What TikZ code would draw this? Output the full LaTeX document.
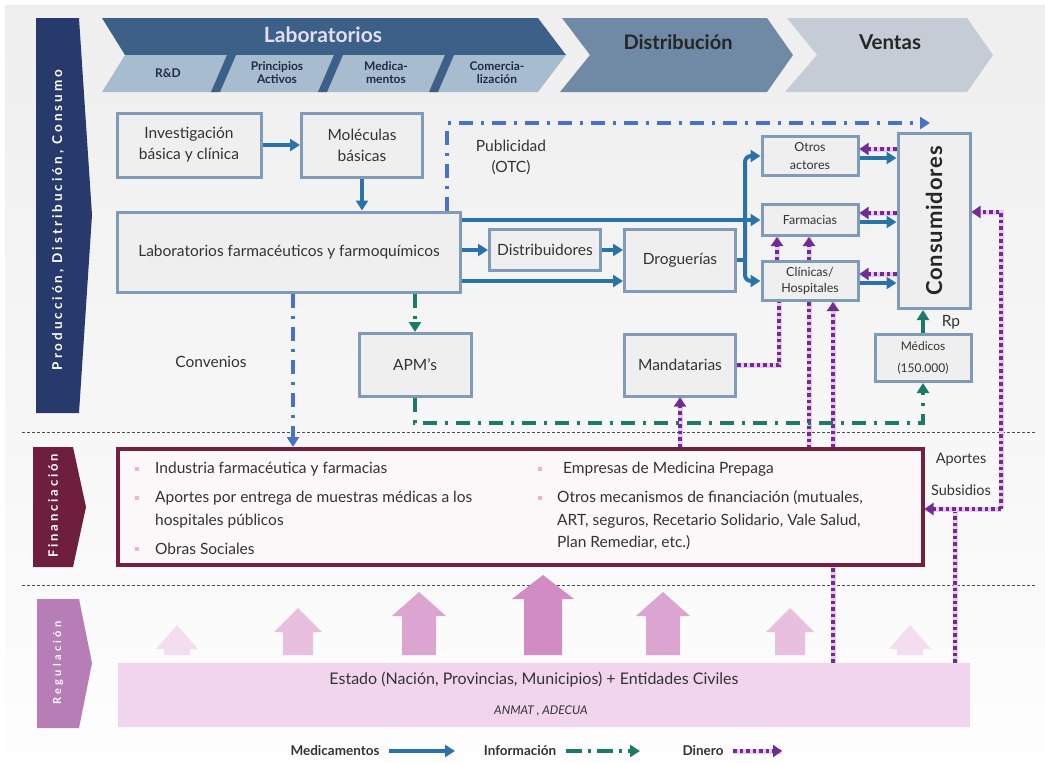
\documentclass[tikz,border=0pt]{standalone}
\usepackage{fontspec}
\setmainfont{Lato}
\usetikzlibrary{positioning, arrows.meta, calc}

\definecolor{navyband}{HTML}{283A6B}
\definecolor{finband}{HTML}{6D1F3D}
\definecolor{regband}{HTML}{B67DB6}
\definecolor{labdark}{HTML}{3D6089}
\definecolor{lablight}{HTML}{A8BCCF}
\definecolor{labtitle}{HTML}{E4DEF2}
\definecolor{distband}{HTML}{7089A5}
\definecolor{ventband}{HTML}{C5CCD5}
\definecolor{boxline}{HTML}{7F9BB8}
\definecolor{boxfill}{HTML}{EFEFEF}
\definecolor{medblue}{HTML}{2A73A8}
\definecolor{pubblue}{HTML}{4A72C4}
\definecolor{infogreen}{HTML}{1C7A6A}
\definecolor{dinpurple}{HTML}{6F2C91}
\definecolor{dinpale}{HTML}{E9C9EC}
\definecolor{finline}{HTML}{74203F}
\definecolor{finfill}{HTML}{FCF8F9}
\definecolor{bulletpink}{HTML}{F2B3C6}
\definecolor{estpink}{HTML}{F1D5EC}
\definecolor{txtdark}{HTML}{333333}
\definecolor{subdark}{HTML}{1F2B45}
\definecolor{uparrowA}{HTML}{F4DDEF}
\definecolor{uparrowB}{HTML}{E8BFDF}
\definecolor{uparrowC}{HTML}{DCA4D0}
\definecolor{uparrowD}{HTML}{D08CC3}

\tikzset{
  box/.style={draw=boxline, line width=3pt, fill=boxfill, align=center, text=txtdark, inner sep=1pt},
  smallbox/.style={box, font=\fontsize{12.5}{18}\selectfont},
  lbl/.style={text=txtdark, align=center, inner sep=1pt},
  bandtxt/.style={text=white, rotate=90, font=\bfseries\fontsize{13.5}{15}\selectfont\addfontfeature{LetterSpace=22}},
  subtxt/.style={text=subdark, align=center, font=\bfseries\fontsize{12}{13}\selectfont},
  fintxt/.style={text=txtdark, anchor=west, inner sep=0pt, font=\fontsize{15.5}{18}\selectfont},
  bulletsq/.style={fill=bulletpink, minimum size=3.5pt, inner sep=0pt},
  legtxt/.style={text=txtdark, font=\bfseries\fontsize{13.5}{15}\selectfont},
  headtip/.style={-{Triangle[length=10pt, width=12pt]}},
  med/.style={draw=medblue, line width=4pt, headtip},
  info/.style={draw=infogreen, line width=4pt, dash pattern=on 14pt off 8pt on 3pt off 8pt, headtip},
  pub/.style={draw=pubblue, line width=4pt, dash pattern=on 14pt off 8pt on 3pt off 8pt, headtip},
  money/.style={draw=dinpurple, line width=4pt, dash pattern=on 3.5pt off 3pt,
    preaction={draw=dinpale, solid, line width=5pt, -}},
  moneytip/.style={money, -{Triangle[length=9pt, width=12pt]}},
  sepline/.style={draw=gray!60!black, line width=0.6pt, dash pattern=on 3pt off 2pt},
}

\begin{document}
\begin{tikzpicture}[x=1pt, y=-1pt, font=\fontsize{15.5}{21}\selectfont]
\useasboundingbox (0,0) rectangle (1045,763);
\fill[white] (0,0) rectangle (1045,763);
\shade[top color=gray!13, bottom color=gray!1] (5,5) rectangle (1045,763);

% bands on the left
\fill[navyband] (36,18) -- (79,18) -- (92,215) -- (79,413) -- (36,413) -- cycle;
\fill[finband] (33,447) -- (73,447) -- (86,507) -- (73,567) -- (33,567) -- cycle;
\fill[regband] (37,599) -- (79,599) -- (92,663) -- (79,728) -- (37,728) -- cycle;
\node[bandtxt] (prodt) at (58,220) {Producción, Distribución, Consumo};
\node[bandtxt, font=\bfseries\fontsize{13}{15}\selectfont\addfontfeature{LetterSpace=22}] (fint) at (53,506) {Financiación};
\node[bandtxt, font=\bfseries\fontsize{11}{13}\selectfont\addfontfeature{LetterSpace=30}] (regt) at (58,663) {Regulación};

% chevrons on top
\begin{scope}
  \clip (102,18) -- (538,18) -- (566,55) -- (538,92) -- (102,92) -- (125,55) -- cycle;
  \fill[labdark] (90,10) rectangle (600,55);
  \fill[lablight] (90,55) rectangle (600,95);
  \foreach \sx in {211,318,429}
    \fill[labdark] (\sx,92) -- (\sx+9,92) -- (\sx+25,55) -- (\sx+16,55) -- cycle;
\end{scope}
\fill[distband] (562,18) -- (767,18) -- (793,55) -- (767,92) -- (560,92) -- (590,55) -- cycle;
\fill[ventband] (787,18) -- (967,18) -- (993,55) -- (967,92) -- (785,92) -- (817,55) -- cycle;
\node[text=labtitle, font=\bfseries\fontsize{21}{23}\selectfont] (labt) at (323,35) {Laboratorios};
\node[subtxt] (rd) at (168,73) {R\&D};
\node[subtxt] (pa) at (277,73) {Principios\\Activos};
\node[subtxt] (me) at (386,73) {Medica-\\mentos};
\node[subtxt] (co) at (497,73) {Comercia-\\lización};
\node[text=black!85, font=\bfseries\fontsize{20}{22}\selectfont] (distt) at (678,42) {Distribución};
\node[text=black!85, font=\bfseries\fontsize{20.5}{22}\selectfont] (ventt) at (890,42) {Ventas};

% dashed separators
\draw[sepline] (22,432) -- (1035,432);
\draw[sepline] (22,585) -- (1035,585);

% regulation arrows
\foreach \ax/\atop/\sw/\hw/\acol in {177/625/26/42/uparrowA, 298/608/30/48/uparrowB,
    419/592/34/54/uparrowC, 543/575/38/62/uparrowD, 663/592/34/54/uparrowC,
    790/608/30/48/uparrowB, 910/625/26/42/uparrowA}
  \fill[\acol] (\ax-\sw/2,655) -- (\ax-\sw/2,\atop+24) -- (\ax-\hw/2,\atop+24) -- (\ax,\atop)
    -- (\ax+\hw/2,\atop+24) -- (\ax+\sw/2,\atop+24) -- (\ax+\sw/2,655) -- cycle;
\node[fill=estpink, minimum width=852pt, minimum height=64pt, inner sep=0pt] (estado) at (544,695) {};
\node[lbl, font=\fontsize{16}{18}\selectfont] (estadotxt) at (534,680) {Estado (Nación, Provincias, Municipios) + Entidades Civiles};
\node[lbl, font=\itshape\fontsize{12}{14}\selectfont] (anmat) at (541,711) {ANMAT , ADECUA};

% production boxes
\node[box, minimum width=144pt, minimum height=64pt] (inv) at (189,145) {Investigación\\básica y clínica};
\node[box, minimum width=121pt, minimum height=64pt] (mol) at (362,145) {Moléculas\\básicas};
\node[box, minimum width=343pt, minimum height=80pt] (lab) at (289,252) {Laboratorios farmacéuticos y farmoquímicos};
\node[box, minimum width=111pt, minimum height=41pt] (dist) at (545,250) {Distribuidores};
\node[box, minimum width=111pt, minimum height=62pt] (drog) at (680,260) {Droguerías};
\node[smallbox, minimum width=96pt, minimum height=39pt] (otros) at (810,156) {Otros\\actores};
\node[smallbox, minimum width=96pt, minimum height=31pt] (farm) at (810,220) {Farmacias};
\node[smallbox, minimum width=96pt, minimum height=39pt, font=\fontsize{12.5}{16}\selectfont] (clin) at (810,281) {Clínicas/\\Hospitales};
\node[box, minimum width=72pt, minimum height=175pt] (cons) at (934,221) {};
\node[rotate=90, text=black!85, font=\bfseries\fontsize{22}{24}\selectfont\addfontfeature{LetterSpace=4}] (constxt) at (cons.center) {Consumidores};
\node[box, minimum width=112pt, minimum height=63pt] (apm) at (415,365) {APM’s};
\node[box, minimum width=111pt, minimum height=62pt] (mand) at (680,365) {Mandatarias};
\node[smallbox, minimum width=96pt, minimum height=47pt, font=\fontsize{12}{22}\selectfont] (medc) at (923,358) {Médicos\\(150.000)};

% financing box
\node[draw=finline, line width=4pt, fill=finfill, minimum width=805pt, minimum height=116pt] (fin) at (520,507) {};
\foreach \bx/\by in {137/469, 137/498, 137/549, 540/469, 540/498}
  \node[bulletsq] (bul\bx\by) at (\bx,\by) {};
\node[fintxt] (fa) at (155,469) {Industria farmacéutica y farmacias};
\node[fintxt] (fb) at (155,498) {Aportes por entrega de muestras médicas a los};
\node[fintxt] (fc) at (155,521) {hospitales públicos};
\node[fintxt] (fd) at (155,549) {Obras Sociales};
\node[fintxt] (fe) at (563,469) {Empresas de Medicina Prepaga};
\node[fintxt] (ff) at (557,498) {Otros mecanismos de financiación (mutuales,};
\node[fintxt] (fg) at (557,521) {ART, seguros, Recetario Solidario, Vale Salud,};
\node[fintxt] (fh) at (557,543) {Plan Remediar, etc.)};

% labels
\node[lbl] (publ) at (511,157) {Publicidad\\(OTC)};
\node[lbl] (conv) at (211,362) {Convenios};
\node[lbl] (rp) at (951,322) {Rp};
\node[lbl, font=\fontsize{14.5}{16}\selectfont] (aportes) at (961,460) {Aportes};
\node[lbl, font=\fontsize{14.5}{16}\selectfont] (subs) at (961,490) {Subsidios};

% medicamentos
\draw[med] (inv) -- (mol);
\draw[med] (mol.south) -- (mol.south |- lab.north);
\draw[med] (lab.east |- dist.west) -- (dist.west);
\draw[med] (dist.east) -- (dist.east -| drog.west);
\draw[med] (lab.east |- farm.west) -- (farm.west);
\draw[med] (lab.east |- clin.west) -- (clin.west -| drog.west);
\coordinate (trunk) at (745,260);
\draw[medblue, line width=4pt] (drog.east) -- (trunk);
\draw[med, rounded corners=6pt] (trunk) |- (otros.west);
\draw[med, rounded corners=6pt] (trunk) |- (clin.west);
\foreach \src in {otros, farm, clin} {
  \draw[med] ([yshift=-2pt]\src.east) -- ([yshift=-2pt]\src.east -| cons.west);
  \draw[moneytip] ([yshift=7pt]\src.east -| cons.west) -- ([yshift=7pt]\src.east);
}

% dinero
\draw[moneytip] ([xshift=-33pt]clin.north) -- ([xshift=-33pt]farm.south);
\draw[moneytip] ([xshift=-1pt]clin.north) -- ([xshift=-1pt]farm.south);
\draw[money] (mand.east) -| ([xshift=-31pt]clin.south);
\draw[money] ([xshift=-1pt]clin.south) -- ([xshift=-1pt]clin.south |- fin.north);
\draw[money] ([xshift=23pt]clin.south |- estado.north) -- ([xshift=23pt]clin.south |- fin.south);
\draw[moneytip] ([xshift=23pt]clin.south |- fin.north) -- ([xshift=23pt]clin.south);
\draw[moneytip] (fin.north -| mand.south) -- (mand.south);
\coordinate (aport) at (955,509);
\coordinate (rcorner) at (1001,509);
\draw[money] (estado.north -| aport) -- (aport);
\draw[moneytip] (rcorner) -- (rcorner -| fin.east);
\draw[moneytip] (rcorner) |- ([yshift=9pt]cons.east);

% informacion
\draw[info] (medc.north) -- (medc.north |- cons.south);
\coordinate (infoy) at (0,423);
\draw[info] (apm.south) |- (infoy -| medc.south) -- (medc.south);
\draw[info] (lab.south -| apm.north) -- (apm.north);
\draw[pub] ([xshift=4pt]lab.south) -- ([xshift=4pt]lab.south |- fin.north);
\coordinate (pubend) at (930,123);
\draw[pub] ([xshift=158pt]lab.north) |- (pubend);

% legend
\node[legtxt] (lgmed) at (335,751) {Medicamentos};
\coordinate (lgmedend) at (455,751);
\draw[med] ([xshift=6pt]lgmed.east) -- (lgmedend);
\node[legtxt] (lginfo) at (520,751) {Información};
\coordinate (lginfoend) at (640,751);
\draw[info, dash pattern=on 16pt off 6pt on 3pt off 6pt] ([xshift=6pt]lginfo.east) -- (lginfoend);
\node[legtxt] (lgdin) at (703,751) {Dinero};
\coordinate (lgdinend) at (782,751);
\draw[moneytip] ([xshift=6pt]lgdin.east) -- (lgdinend);
\end{tikzpicture}
\end{document}
